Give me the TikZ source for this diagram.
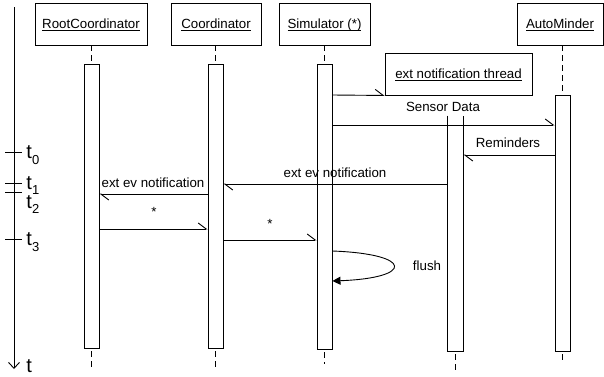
\documentclass[tikz,border=0pt]{standalone}
\usepackage{fontspec}
\usepackage{amsmath}
\setmainfont{Liberation Sans}
\usetikzlibrary{arrows.meta}
\begin{document}
\begin{tikzpicture}[x=1pt,y=-1pt,line width=0.9pt,
  every node/.style={font=\fontsize{13.3}{16}\selectfont,inner sep=0pt},
  head/.style={draw,rectangle,minimum height=42pt,text height=9.5pt,text depth=1.5pt},
  bar/.style={draw,rectangle,minimum width=15pt},
  openbar/.style={rectangle,minimum width=15pt},
  life/.style={dash pattern=on 6pt off 4pt,line width=0.7pt},
  msg/.style={-{Straight Barb[harpoon,length=8pt,width=12pt]}},
  self/.style={-{Triangle[length=8pt,width=8pt]}},
  lbl/.style={anchor=base},
  tlab/.style={anchor=base west,font=\fontsize{20}{20}\selectfont}]
\useasboundingbox (0,0) rectangle (604,376);

% heads
\node[head,minimum width=112pt] (rc) at (91,24) {\underline{\smash[b]{RootCoordinator}}};
\node[head,minimum width=90pt] (co) at (216,24) {\underline{\smash[b]{Coordinator}}};
\node[head,minimum width=91pt] (si) at (324.5,24) {\underline{\smash[b]{Simulator (*)}}};
\node[head,minimum width=86pt] (am) at (560,24) {\underline{\smash[b]{AutoMinder}}};
\node[head,minimum width=147pt] (note) at (458.5,74) {\underline{\smash[b]{ext notification thread}}};

% activation bars
\node[bar,minimum height=284pt] (rb) at (91.5,206) {};
\node[bar,minimum height=284pt] (cb) at (215.5,206) {};
\node[bar,minimum height=285pt] (sb) at (324.5,206.5) {};
\node[openbar,minimum height=235pt] (tb) at (455.5,233.5) {};
\draw (tb.north west) -- (tb.south west) -- (tb.south east) -- (tb.north east);
\node[bar,minimum height=256pt] (ab) at (562.5,223) {};

% lifelines
\draw[life] (rb.north |- rc.south) -- (rb.north);
\draw[life] (cb.north |- co.south) -- (cb.north);
\draw[life] (sb.north |- si.south) -- (sb.north);
\draw[life] (ab.north |- am.south) -- (ab.north);
\draw[life] ([yshift=-3pt]rb.south) -- ++(0,16);
\draw[life] ([yshift=-3pt]cb.south) -- ++(0,16);
\draw[life] ([yshift=-3pt]sb.south) -- ++(0,12);
\draw[life] ([yshift=-3pt]tb.south) -- ++(0,16);
\draw[life] ([yshift=-3pt]ab.south) -- ++(0,6);

% messages
\draw[msg] (sb.east |- 0,95) -- (note.south west);
\draw[msg] (sb.east |- 0,125) -- (ab.west |- 0,125);
\node[lbl] (lsd) at (443,111) {Sensor Data};
\draw[msg] (ab.west |- 0,155) -- (tb.east |- 0,155);
\node[lbl] (lrm) at (508,147) {Reminders};
\draw[msg] (tb.west |- 0,184) -- (cb.east |- 0,184);
\node[lbl] (le1) at (335,177) {ext ev notification};
\draw[msg] (cb.west |- 0,194) -- (rb.east |- 0,194);
\node[lbl] (le2) at (153,187) {ext ev notification};
\draw[msg] (rb.east |- 0,229) -- (cb.west |- 0,229);
\node[lbl] (ls1) at (154,216) {*};
\draw[msg] (cb.east |- 0,240) -- (sb.west |- 0,240);
\node[lbl] (ls2) at (270,228) {*};
\draw[self] (sb.east |- 0,251) .. controls (414,254) and (414,278) .. (sb.east |- 0,281);
\node[lbl] (lfl) at (427,270) {flush};

% time axis
\coordinate (ax0) at (14,7);
\coordinate (ax1) at (14,369);
\draw[-{Straight Barb[length=6pt,width=11pt]}] (ax0) -- (ax1);
\draw ([xshift=-9pt]ax0 |- 0,152) -- ++(17,0);
\draw ([xshift=-9pt]ax0 |- 0,183) -- ++(17,0);
\draw ([xshift=-9pt]ax0 |- 0,192) -- ++(17,0);
\draw ([xshift=-9pt]ax0 |- 0,239) -- ++(17,0);
\node[tlab] (t0) at (26,158) {t\raisebox{-6pt}{\fontsize{13}{13}\selectfont 0}};
\node[tlab] (t1) at (26,189) {t\raisebox{-5pt}{\fontsize{13}{13}\selectfont 1}};
\node[tlab] (t2) at (26,208) {t\raisebox{-5pt}{\fontsize{13}{13}\selectfont 2}};
\node[tlab] (t3) at (26,245) {t\raisebox{-6pt}{\fontsize{13}{13}\selectfont 3}};
\node[tlab] (tt) at (26,372) {t};
\end{tikzpicture}
\end{document}
